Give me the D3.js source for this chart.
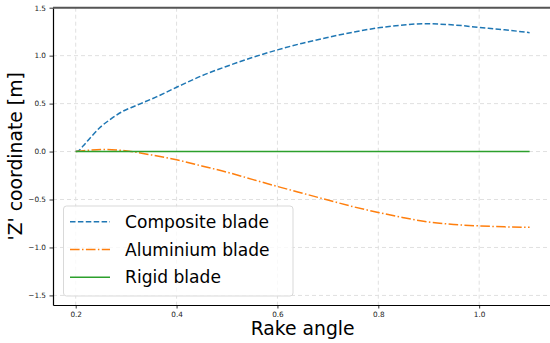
<!DOCTYPE html>
<html>
<head>
<meta charset="utf-8">
<script src="https://cdn.jsdelivr.net/npm/d3@7"></script>
<style>
  html, body { margin: 0; padding: 0; background: #fff; }
  svg { display: block; font-family: 'DejaVu Sans', sans-serif; }
</style>
</head>
<body>
<div id="chart"></div>
<script>
// Series
const compositeX = [0.2, 0.205, 0.215, 0.23, 0.25, 0.27, 0.29, 0.32, 0.36, 0.40, 0.45, 0.50, 0.55, 0.60, 0.65, 0.70, 0.75, 0.80, 0.85, 0.89, 0.95, 1.0, 1.05, 1.1]
const compositeY = [0, 0.005, 0.06, 0.15, 0.26, 0.34, 0.41, 0.48, 0.57, 0.67, 0.79, 0.89, 0.98, 1.06, 1.13, 1.19, 1.245, 1.29, 1.32, 1.333, 1.32, 1.295, 1.27, 1.24]

const aluminiumX = [0.2, 0.23, 0.26, 0.29, 0.31, 0.35, 0.40, 0.45, 0.50, 0.55, 0.60, 0.65, 0.70, 0.75, 0.80, 0.85, 0.90, 0.95, 1.0, 1.05, 1.1]
const aluminiumY = [0, 0.015, 0.022, 0.012, 0.0, -0.035, -0.086, -0.15, -0.215, -0.29, -0.364, -0.435, -0.505, -0.575, -0.635, -0.69, -0.735, -0.76, -0.775, -0.785, -0.79]

const rigidX = [0.2, 1.1]
const rigidY = [0, 0]

const xTicks = [0.2, 0.4, 0.6, 0.8, 1.0]
const yTicks = [-1.5, -1.0, -0.5, 0.0, 0.5, 1.0, 1.5]

const seriesNames = ['Composite blade', 'Aluminium blade', 'Rigid blade']

const width = 550
const height = 343
const margin = { top: 7.7, right: -2.3, bottom: 38, left: 53 }

const svg = d3.select('#chart').append('svg').attr('width', width).attr('height', height)

const xScale = d3
  .scaleLinear()
  .domain([0.155, 1.145])
  .range([margin.left, width - margin.right])

const yScale = d3
  .scaleLinear()
  .domain([-1.6, 1.5])
  .range([height - margin.bottom, margin.top])

// grid
const grid = svg.append('g').attr('class', 'grid')
grid
  .selectAll('.gx')
  .data(xTicks)
  .join('line')
  .attr('x1', (d) => xScale(d))
  .attr('x2', (d) => xScale(d))
  .attr('y1', margin.top)
  .attr('y2', height - margin.bottom)
grid
  .selectAll('.gy')
  .data(yTicks)
  .join('line')
  .attr('x1', margin.left)
  .attr('x2', width)
  .attr('y1', (d) => yScale(d))
  .attr('y2', (d) => yScale(d))
grid
  .selectAll('line')
  .attr('stroke', '#e0e0e0')
  .attr('stroke-width', 1)
  .attr('stroke-dasharray', '4,3')

// lines
const line = d3
  .line()
  .x((d) => xScale(d[0]))
  .y((d) => yScale(d[1]))
  .curve(d3.curveMonotoneX)

const series = [
  { name: seriesNames[0], xs: compositeX, ys: compositeY, color: '#1f77b4', dash: '5.5,2.4' },
  { name: seriesNames[1], xs: aluminiumX, ys: aluminiumY, color: '#ff7f0e', dash: '9.6,2.4,1.5,2.4' },
  { name: seriesNames[2], xs: rigidX, ys: rigidY, color: '#2ca02c', dash: null }
]

series.forEach((s) => {
  svg
    .append('path')
    .datum(s.xs.map((x, i) => [x, s.ys[i]]))
    .attr('fill', 'none')
    .attr('stroke', s.color)
    .attr('stroke-width', 1.5)
    .attr('stroke-dasharray', s.dash)
    .attr('d', line)
})

// axes
const xAxis = d3.axisBottom(xScale).tickValues(xTicks).tickFormat(d3.format('.1f')).tickSize(3.5).tickSizeOuter(0).tickPadding(3.5)
svg
  .append('g')
  .attr('transform', `translate(0,${height - margin.bottom})`)
  .call(xAxis)
  .call((g) => {
    g.select('.domain').attr('stroke', '#000').attr('stroke-width', 1.2)
    g.selectAll('.tick line').attr('stroke', '#000').attr('stroke-width', 0.8)
    g.selectAll('.tick text').attr('fill', '#222').attr('font-size', '7.3px').attr('font-family', 'DejaVu Sans')
  })

const yAxis = d3.axisLeft(yScale).tickValues(yTicks).tickFormat((d) => d3.format('.1f')(d).replace('-', '\u2212')).tickSize(3.5).tickSizeOuter(0).tickPadding(3.5)
svg
  .append('g')
  .attr('transform', `translate(${margin.left},0)`)
  .call(yAxis)
  .call((g) => {
    g.select('.domain').attr('stroke', '#000').attr('stroke-width', 1.2)
    g.selectAll('.tick line').attr('stroke', '#000').attr('stroke-width', 0.8)
    g.selectAll('.tick text').attr('fill', '#222').attr('font-size', '7.3px').attr('font-family', 'DejaVu Sans')
  })

// top spine
svg
  .append('line')
  .attr('x1', margin.left)
  .attr('x2', width)
  .attr('y1', margin.top)
  .attr('y2', margin.top)
  .attr('stroke', '#555')
  .attr('stroke-width', 2)

// axis labels
svg
  .append('text')
  .attr('x', (margin.left + width - margin.right) / 2)
  .attr('y', 335)
  .attr('text-anchor', 'middle')
  .attr('font-size', '18.8px')
  .attr('fill', '#000')
  .text('Rake angle')

svg
  .append('text')
  .attr('transform', `translate(22,${(margin.top + height - margin.bottom) / 2}) rotate(-90)`)
  .attr('text-anchor', 'middle')
  .attr('font-size', '18.8px')
  .attr('fill', '#000')
  .text("'Z' coordinate [m]")

// legend
const legend = svg.append('g').attr('class', 'legend')
legend
  .append('rect')
  .attr('x', 63.5)
  .attr('y', 206)
  .attr('width', 229.5)
  .attr('height', 90)
  .attr('rx', 3)
  .attr('fill', '#fff')
  .attr('fill-opacity', 0.8)
  .attr('stroke', '#d9d9d9')
  .attr('stroke-width', 1)

series.forEach((s, i) => {
  const y = 221.7 + i * 27.8
  legend
    .append('line')
    .attr('x1', 70)
    .attr('x2', 110)
    .attr('y1', y)
    .attr('y2', y)
    .attr('stroke', s.color)
    .attr('stroke-width', 1.5)
    .attr('stroke-dasharray', s.dash)
  legend
    .append('text')
    .attr('x', 125)
    .attr('y', y)
    .attr('dy', '0.36em')
    .attr('font-size', '17.1px')
    .attr('fill', '#000')
    .text(s.name)
})
</script>
</body>
</html>
